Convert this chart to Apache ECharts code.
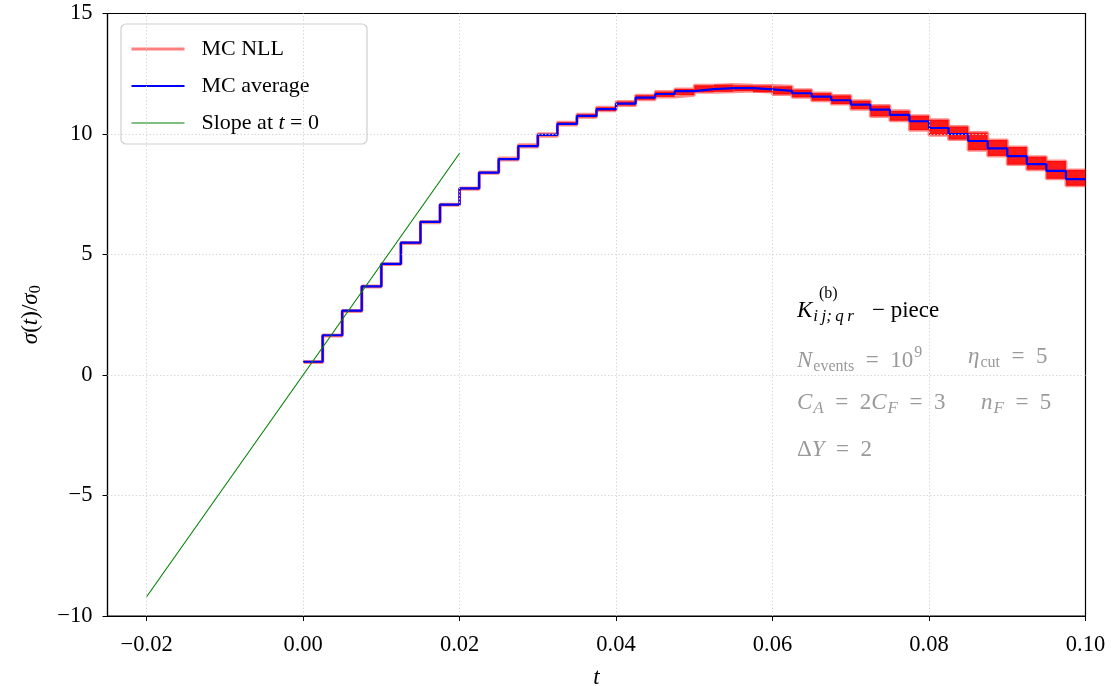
<!DOCTYPE html>
<html><head><meta charset="utf-8">
<script src="https://cdn.jsdelivr.net/npm/echarts@6/dist/echarts.min.js"></script>
<style>html,body{margin:0;padding:0;background:#fff}#c{width:1114px;height:686px}</style>
</head><body><div id="c"></div>
<script>
// ---- data ----
const tEdges = [0, 0.0025, 0.005, 0.0075, 0.01, 0.0125, 0.015, 0.0175, 0.02, 0.0225,
  0.025, 0.0275, 0.03, 0.0325, 0.035, 0.0375, 0.04, 0.0425, 0.045, 0.0475,
  0.05, 0.0525, 0.055, 0.0575, 0.06, 0.0625, 0.065, 0.0675, 0.07, 0.0725,
  0.075, 0.0775, 0.08, 0.0825, 0.085, 0.0875, 0.09, 0.0925, 0.095, 0.0975, 0.1];
const mcAverage = [0.55, 1.65, 2.67, 3.68, 4.61, 5.49, 6.35, 7.07, 7.74, 8.40,
  8.96, 9.50, 9.96, 10.42, 10.75, 11.03, 11.26, 11.51, 11.66, 11.78,
  11.86, 11.90, 11.90, 11.85, 11.79, 11.69, 11.55, 11.40, 11.22, 11.01,
  10.79, 10.53, 10.25, 10.00, 9.71, 9.40, 9.08, 8.75, 8.47, 8.13];
const nllUpper = [0.56, 1.66, 2.68, 3.69, 4.62, 5.50, 6.37, 7.09, 7.76, 8.42,
  9.00, 9.55, 10.01, 10.49, 10.82, 11.11, 11.35, 11.61, 11.76, 11.87,
  12.02, 12.05, 12.02, 12.01, 11.98, 11.84, 11.70, 11.60, 11.38, 11.18,
  10.96, 10.76, 10.59, 10.31, 10.06, 9.75, 9.46, 9.06, 8.88, 8.51];
const nllLower = [0.52, 1.62, 2.64, 3.65, 4.58, 5.46, 6.32, 7.04, 7.71, 8.37,
  8.92, 9.46, 9.91, 10.37, 10.69, 10.96, 11.18, 11.42, 11.54, 11.61,
  11.73, 11.75, 11.78, 11.73, 11.64, 11.52, 11.38, 11.24, 11.03, 10.73,
  10.55, 10.16, 9.95, 9.77, 9.33, 9.09, 8.73, 8.52, 8.14, 7.85];
const slopeT = [-0.02, 0.02];
const slopeY = [-9.2, 9.2];
const xTicks = [-0.02, 0, 0.02, 0.04, 0.06, 0.08, 0.10];
const yTicks = [-10, -5, 0, 5, 10, 15];

// ---- build series data ----
const X_MIN = -0.025, X_MAX = 0.1, Y_MIN = -10, Y_MAX = 15;
function stepData(vals) { return tEdges.map((t, i) => [t, vals[Math.min(i, vals.length - 1)]]); }
const bandBins = nllUpper.map((u, i) => [tEdges[i], tEdges[i + 1], nllLower[i], u]);
const FONT = 'Liberation Serif';
const minus = s => s.replace('-', '\u2212');
const gridLine = { type: [1.5, 2], color: '#d4d4d4', width: 0.9 };
const innerX = xTicks.filter(v => v > X_MIN && v < X_MAX);
const innerY = yTicks.filter(v => v > Y_MIN && v < Y_MAX);
const GRAY = '#9a9a9a';
const EQ = '\u2002=\u2002';
function mathRich(color) {
  return {
    i: { fontFamily: FONT, fontStyle: 'italic', fontSize: 23, color: color },
    n: { fontFamily: FONT, fontSize: 23, color: color },
    sb: { fontFamily: FONT, fontSize: 16, padding: [12, 0, 0, 1], color: color },
    si: { fontFamily: FONT, fontStyle: 'italic', fontSize: 17, padding: [12, 0, 0, 1], color: color },
    sp: { fontFamily: FONT, fontSize: 16, padding: [0, 0, 15, 1], color: color }
  };
}
function txt(left, top, text, color) {
  return { type: 'text', left: left, top: top, z: 10, style: { text: text, fill: color, font: '23px ' + FONT, rich: mathRich(color) } };
}

const chart = echarts.init(document.getElementById('c'), null, { renderer: 'canvas' });
chart.setOption({
  animation: false,
  backgroundColor: '#ffffff',
  grid: { left: 107.5, right: 28.5, top: 13.5, bottom: 70, outerBoundsMode: 'none', containLabel: false,
    show: true, borderColor: '#000', borderWidth: 1.2, backgroundColor: 'transparent' },
  xAxis: {
    type: 'value', min: X_MIN, max: X_MAX,
    name: 't', nameLocation: 'middle', nameGap: 50,
    nameTextStyle: { fontFamily: FONT, fontStyle: 'italic', fontSize: 23, color: '#000' },
    axisLine: { show: true, onZero: false, lineStyle: { color: '#000', width: 1.2 } },
    axisTick: { show: true, inside: false, length: 5, customValues: xTicks, lineStyle: { color: '#000', width: 1 } },
    axisLabel: { customValues: xTicks, margin: 18, fontFamily: FONT, fontSize: 22.5, color: '#000',
      formatter: v => minus(Number(v).toFixed(2)) },
    splitLine: { show: false }
  },
  yAxis: {
    type: 'value', min: Y_MIN, max: Y_MAX, interval: 5,
    name: '{i|σ}({i|t})/{i|σ}{s|0}', nameLocation: 'middle', nameGap: 64, nameRotate: 90,
    nameTextStyle: { fontFamily: FONT, fontSize: 23, color: '#000',
      rich: { i: { fontFamily: FONT, fontStyle: 'italic', fontSize: 23 }, s: { fontFamily: FONT, fontSize: 16, padding: [10, 0, 0, 0] } } },
    axisLine: { show: true, onZero: false, lineStyle: { color: '#000', width: 1.2 } },
    axisTick: { show: true, inside: false, length: 5, lineStyle: { color: '#000', width: 1 } },
    axisLabel: { margin: 15, fontFamily: FONT, fontSize: 22.5, color: '#000', formatter: v => minus(String(v)) },
    splitLine: { show: false }
  },
  legend: {
    orient: 'vertical', left: 121, top: 24,
    itemWidth: 53, itemHeight: 14, itemGap: 15,
    padding: [14, 48, 10, 9],
    backgroundColor: 'rgba(255,255,255,0.85)', borderColor: '#cfcfcf', borderWidth: 1.2, borderRadius: 5,
    itemStyle: { color: 'rgba(0,0,0,0)', borderColor: 'rgba(0,0,0,0)', borderWidth: 0 },
    textStyle: { fontFamily: FONT, fontSize: 22, color: '#000', padding: [0, 0, 0, 12],
      rich: { i: { fontFamily: FONT, fontStyle: 'italic', fontSize: 22, color: '#000' } } },
    formatter: n => n === 'Slope at t = 0' ? 'Slope at {i|t} = 0' : n,
    data: [
      { name: 'MC NLL', lineStyle: { color: 'rgba(255,0,0,0.5)', width: 3, opacity: 1 } },
      { name: 'MC average', lineStyle: { color: '#0000ff', width: 2.2 } },
      { name: 'Slope at t = 0', lineStyle: { color: '#008000', width: 1.1 } }
    ]
  },
  series: [
    { // light dotted grid
      name: '_grid', type: 'line', data: [], silent: true, z: 0,
      markLine: { silent: true, symbol: 'none', label: { show: false }, lineStyle: gridLine, animation: false,
        data: innerX.map(v => ({ xAxis: v })).concat(innerY.map(v => ({ yAxis: v }))) }
    },
    { name: 'MC NLL', type: 'line', step: 'end', data: stepData(nllUpper), showSymbol: false, symbol: 'none',
      lineStyle: { color: '#ff0000', width: 3, opacity: 0.45 }, silent: true, z: 3 },
    { name: 'MC NLL', type: 'line', step: 'end', data: stepData(nllLower), showSymbol: false, symbol: 'none',
      lineStyle: { color: '#ff0000', width: 3, opacity: 0.45 }, silent: true, z: 3 },
    { name: '_band', type: 'custom', data: bandBins, silent: true, z: 2,
      encode: { x: [0, 1], y: [2, 3] },
      renderItem: (params, api) => {
        const p1 = api.coord([api.value(0), api.value(3)]);
        const p2 = api.coord([api.value(1), api.value(2)]);
        return { type: 'rect', shape: { x: p1[0], y: p1[1], width: p2[0] - p1[0], height: p2[1] - p1[1] },
          style: { fill: 'rgba(255,0,0,0.9)' } };
      } },
    { name: 'MC average', type: 'line', step: 'end', data: stepData(mcAverage), showSymbol: false, symbol: 'none',
      itemStyle: { color: '#0000ff' }, lineStyle: { color: '#0000ff', width: 2.2 }, silent: true, z: 4 },
    { name: 'Slope at t = 0', type: 'line', data: slopeT.map((t, i) => [t, slopeY[i]]), showSymbol: false, symbol: 'none',
      itemStyle: { color: '#008000' }, lineStyle: { color: '#008000', width: 1.1 }, silent: true, z: 5 }
  ],
  graphic: { elements: [
    txt(797, 299, '{i|K}{si|i\u2009j;\u2009q\u2009r}', '#000'),
    txt(872, 299, '{n|− piece}', '#000'),
    { type: 'text', left: 819, top: 286, z: 10, style: { text: '(b)', fill: '#000', font: '16px ' + FONT } },
    txt(797, 345, '{i|N}{sb|events}{n|' + EQ + '10}{sp|9}', GRAY),
    txt(968, 345, '{i|η}{sb|cut}{n|' + EQ + '5}', GRAY),
    txt(797, 391, '{i|C}{si|A}{n|' + EQ + '2}{i|C}{si|F}{n|' + EQ + '3}', GRAY),
    txt(981, 391, '{i|n}{si|F}{n|' + EQ + '5}', GRAY),
    txt(797, 438, '{n|Δ}{i|Y}{n|' + EQ + '2}', GRAY)
  ] }
});
</script>
</body></html>
